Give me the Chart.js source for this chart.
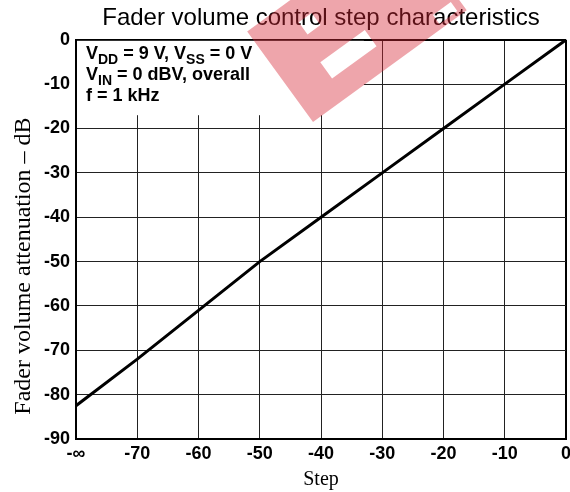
<!DOCTYPE html>
<html>
<head>
<meta charset="utf-8">
<script src="https://cdn.jsdelivr.net/npm/chart.js@4"></script>
<style>
  html, body { margin: 0; padding: 0; background: #fff; }
  canvas { display: block; }
</style>
</head>
<body>
<canvas id="faderChart" width="570" height="492"></canvas>
<script>
// ----------- DATA -----------
const steps = [-80, -70, -60, -50, -40, -30, -20, -10, 0];
const attenuation = [-82.5, -72, -61, -50, -40, -30, -20, -10, 0];
const xTickLabels = ["-\u221E", "-70", "-60", "-50", "-40", "-30", "-20", "-10", "0"];
const yTickValues = [0, -10, -20, -30, -40, -50, -60, -70, -80, -90];

// condition notes, [text, isSubscript]
const notes = [
  [["V", false], ["DD", true], [" = 9 V, V", false], ["SS", true], [" = 0 V", false]],
  [["V", false], ["IN", true], [" = 0 dBV, overall", false]],
  [["f = 1 kHz", false]]
];

const SANS = '"Liberation Sans", Arial, sans-serif';
const SERIF = '"Liberation Serif", "Times New Roman", serif';

// ----------- PLUGINS -----------
// the original leaves the grid blank behind the condition notes
const noteBox = {
  id: "noteBox",
  beforeDatasetsDraw(chart) {
    const { ctx, chartArea, scales } = chart;
    const x1 = scales.x.getPixelForValue(-33);
    const y1 = scales.y.getPixelForValue(-17);
    ctx.save();
    ctx.fillStyle = "#fff";
    ctx.fillRect(chartArea.left + 1, chartArea.top + 1, x1 - chartArea.left - 1, y1 - chartArea.top - 1);
    ctx.restore();
  },
  afterDatasetsDraw(chart) {
    const { ctx, chartArea } = chart;
    ctx.save();
    ctx.fillStyle = "#000";
    ctx.textBaseline = "alphabetic";
    notes.forEach((parts, i) => {
      let x = chartArea.left + 10;
      const y = chartArea.top + 19 + i * 21;
      parts.forEach(([text, sub]) => {
        ctx.font = sub ? "bold 14px " + SANS : "bold 18px " + SANS;
        ctx.fillText(text, x, sub ? y + 5 : y);
        x += ctx.measureText(text).width;
      });
    });
    ctx.restore();
  }
};

// y axis title sits a bit below the middle of the axis in the original
const yTitle = {
  id: "yTitle",
  afterDraw(chart) {
    const { ctx, scales } = chart;
    ctx.save();
    ctx.translate(24, scales.y.getPixelForValue(-51));
    ctx.rotate(-Math.PI / 2);
    ctx.font = "24px " + SERIF;
    ctx.fillStyle = "#000";
    ctx.textAlign = "center";
    ctx.textBaseline = "middle";
    ctx.fillText("Fader volume attenuation \u2013 dB", 0, 0);
    ctx.restore();
  }
};

// pink watermark stamped over the scan
const watermark = {
  id: "watermark",
  afterDraw(chart) {
    const ctx = chart.ctx;
    ctx.save();
    ctx.translate(313, 122);
    ctx.rotate(-36 * Math.PI / 180);
    ctx.beginPath();
    ctx.rect(0, -112, 190, 112);
    ctx.rect(47, -89, 16, 15);
    ctx.rect(41, -44, 55, 20);
    ctx.rect(160, -16, 22, 11);
    ctx.fillStyle = "rgba(215, 40, 55, 0.42)";
    ctx.fill("evenodd");
    ctx.restore();
  }
};

// ----------- FADER STEP CHART -----------
const ctx = document.getElementById("faderChart").getContext("2d");
new Chart(ctx, {
  type: "line",
  data: {
    datasets: [{
      data: steps.map((s, i) => ({ x: s, y: attenuation[i] })),
      borderColor: "#000",
      borderWidth: 3,
      pointRadius: 0,
      tension: 0
    }]
  },
  options: {
    responsive: false,
    devicePixelRatio: 1,
    animation: false,
    layout: { padding: { top: 0, right: 0, bottom: 0, left: 0 } },
    plugins: {
      legend: { display: false },
      tooltip: { enabled: false },
      title: {
        display: true,
        fullSize: false,
        text: "Fader volume control step characteristics",
        color: "#000",
        font: { family: SANS, size: 24, weight: "normal" },
        padding: { top: 4, bottom: 7 }
      }
    },
    scales: {
      x: {
        type: "linear",
        min: -80,
        max: 0,
        afterFit: s => { s.height = 53; s.paddingRight = 4; },
        ticks: {
          stepSize: 10,
          autoSkip: false,
          maxRotation: 0,
          padding: 4,
          color: "#000",
          font: { family: SANS, size: 18, weight: "bold" },
          callback: (v, i) => xTickLabels[i]
        },
        grid: {
          drawTicks: false,
          color: c => (c.tick && c.tick.value === 0 ? "#000" : "#222"),
          lineWidth: c => (c.tick && c.tick.value === 0 ? 2 : 1)
        },
        border: { display: true, color: "#000", width: 2 },
        title: {
          display: true,
          text: "Step",
          color: "#000",
          font: { family: SERIF, size: 20 },
          padding: { top: 0, bottom: 0 }
        }
      },
      y: {
        type: "linear",
        min: -90,
        max: 0,
        afterFit: s => { s.width = 76; },
        afterBuildTicks: s => { s.ticks = yTickValues.map(v => ({ value: v })); },
        ticks: {
          padding: 6,
          color: "#000",
          font: { family: SANS, size: 18, weight: "bold" }
        },
        grid: {
          drawTicks: false,
          color: c => (c.tick && c.tick.value === 0 ? "#000" : "#222"),
          lineWidth: c => (c.tick && c.tick.value === 0 ? 2 : 1)
        },
        border: { display: true, color: "#000", width: 2 }
      }
    }
  },
  plugins: [noteBox, yTitle, watermark]
});
</script>
</body>
</html>
